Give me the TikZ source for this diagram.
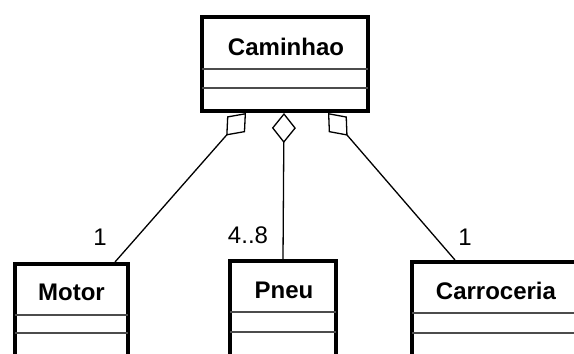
\documentclass[tikz,border=0pt]{standalone}
\usepackage{fontspec}
\setmainfont{Liberation Sans}
\usetikzlibrary{arrows.meta,calc}
\begin{document}
\begin{tikzpicture}[x=1pt,y=-1pt,
  cls/.style={draw, line width=4pt, fill=white, inner sep=0pt},
  ttl/.style={inner sep=0pt, font=\fontsize{24}{28}\selectfont\bfseries},
  lbl/.style={inner sep=0pt, font=\fontsize{24}{28}\selectfont},
  sepline/.style={draw=black!70, line width=1.5pt},
  agg/.style={line width=1.3pt, {Diamond[open,length=30pt,width=24pt]}-}]
\useasboundingbox (0,0) rectangle (574,354);
\clip (0,0) rectangle (574,354);
% boxes
\node[cls, minimum width=166pt, minimum height=94pt] (cam) at (285,64) {};
\node[cls, minimum width=113pt, minimum height=116pt] (motor) at (71.5,322) {};
\node[cls, minimum width=106pt, minimum height=116pt] (pneu) at (283,319) {};
\node[cls, minimum width=186pt, minimum height=116pt] (carr) at (505,320) {};
% separators
\draw[sepline] ($(cam.north west)+(2,54)$) -- ($(cam.north east)+(-2,54)$);
\draw[sepline] ($(cam.north west)+(2,73)$) -- ($(cam.north east)+(-2,73)$);
\draw[sepline] ($(motor.north west)+(2,53)$) -- ($(motor.north east)+(-2,53)$);
\draw[sepline] ($(motor.north west)+(2,71)$) -- ($(motor.north east)+(-2,71)$);
\draw[sepline] ($(pneu.north west)+(2,53)$) -- ($(pneu.north east)+(-2,53)$);
\draw[sepline] ($(pneu.north west)+(2,73)$) -- ($(pneu.north east)+(-2,73)$);
\draw[sepline] ($(carr.north west)+(2,53)$) -- ($(carr.north east)+(-2,53)$);
\draw[sepline] ($(carr.north west)+(2,73)$) -- ($(carr.north east)+(-2,73)$);
% titles
\node[ttl] (camt) at (286,47) {Caminhao};
\node[ttl] (motort) at (71.5,292) {Motor};
\node[ttl] (pneut) at (284,290) {Pneu};
\node[ttl] (carrt) at (496,291) {Carroceria};
% connectors
\draw[agg] ([xshift=-39pt]cam.south) -- ([xshift=43.5pt]motor.north);
\draw[agg] ([xshift=-1pt]cam.south) -- (pneu.north);
\draw[agg] ([xshift=43pt]cam.south) -- ([xshift=-50pt]carr.north);
% multiplicities
\node[lbl] (m1) at (100,237) {1};
\node[lbl] (m2) at (248,235) {4..8};
\node[lbl] (m3) at (465,237) {1};
\end{tikzpicture}
\end{document}
